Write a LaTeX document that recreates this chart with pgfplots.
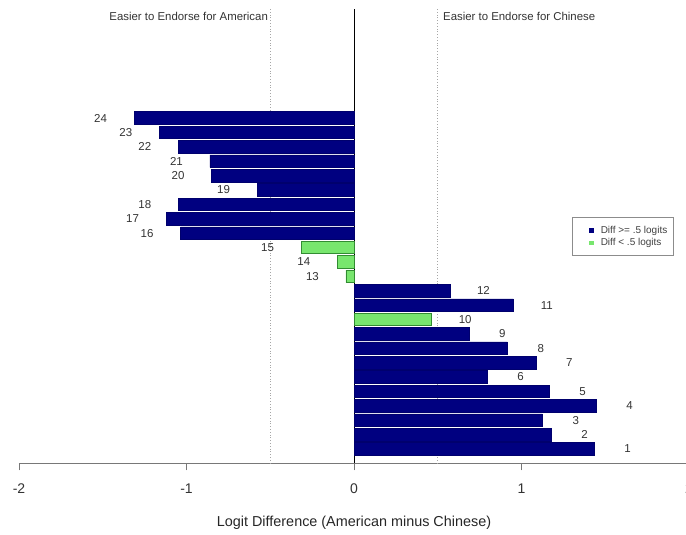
\documentclass[border=0pt]{standalone}
\usepackage{fontspec}
\setmainfont{Liberation Sans}
\usepackage{pgfplots}
\usepackage{pgfplotstable}
\pgfplotsset{compat=1.18}
\definecolor{navybar}{RGB}{0,0,128}
\definecolor{greenbar}{RGB}{120,230,110}
\definecolor{greenedge}{RGB}{50,140,50}
\definecolor{axgray}{RGB}{120,120,120}

\pgfplotstableread{
y x
24 -1.313
23 -1.162
22 -1.049
21 -0.860
20 -0.850
19 -0.579
18 -1.049
17 -1.122
16 -1.035
12 0.573
11 0.951
9 0.685
8 0.915
7 1.085
6 0.794
5 1.164
4 1.445
3 1.124
2 1.176
1 1.433
}\navydata

\pgfplotstableread{
y x
15 -0.316
14 -0.100
13 -0.048
10 0.464
}\greendata

\pgfplotstableread{
y x lab
24 -1.513 24
23 -1.362 23
22 -1.249 22
21 -1.060 21
20 -1.050 20
19 -0.779 19
18 -1.249 18
17 -1.322 17
16 -1.235 16
15 -0.516 15
14 -0.300 14
13 -0.248 13
12 0.773 12
11 1.151 11
10 0.664 10
9 0.885 9
8 1.115 8
7 1.285 7
6 0.994 6
5 1.364 5
4 1.645 4
3 1.324 3
2 1.376 2
1 1.633 1
}\labdata

\begin{document}
\begin{tikzpicture}[x=1pt,y=1pt]
\begin{axis}[
  scale only axis, width=670pt, height=454.4pt,
  xmin=-2, xmax=2, ymin=0, ymax=31.58,
  clip=false,
  axis y line=none, axis x line*=bottom,
  x axis line style={draw=axgray, line width=0.8pt},
  xtick={-2,-1,0,1,2}, xticklabels={-2,-1,0,1,2},
  xtick align=outside, major tick length=7pt,
  every tick/.style={axgray, line width=0.8pt},
  ytick=\empty,
  x tick label style={font=\fontsize{14}{16}\selectfont, text=black!80, anchor=center, yshift=-18pt},
  xlabel={Logit Difference (American minus Chinese)},
  xlabel style={font=\fontsize{14.4}{16}\selectfont, text=black!85, at={(axis description cs:0.5,0)}, anchor=center, yshift=-59.5pt},
  legend style={at={(axis description cs:0.8253,0.5421)}, anchor=north west,
    draw=black!45, line width=0.6pt, fill=white,
    font=\fontsize{10}{11}\selectfont, text=black!75,
    inner xsep=4.5pt, inner ysep=6.5pt, row sep=0pt},
  legend cell align=left,
]
\addplot[black, line width=0.8pt, forget plot] coordinates {(0,0) (0,31.58)};
\addplot[black!35, dotted, line width=0.8pt, forget plot] coordinates {(-0.5,0) (-0.5,31.58)};
\addplot[black!35, dotted, line width=0.8pt, forget plot] coordinates {(0.5,0) (0.5,31.58)};

\addplot[xbar, bar width=0.87, bar shift=0pt, fill=navybar, draw=navybar!85!black, line width=0.5pt, forget plot] table[x=x,y=y] {\navydata};
\addplot[xbar, bar width=0.87, bar shift=0pt, fill=greenbar, draw=greenedge, line width=0.7pt, forget plot] table[x=x,y=y] {\greendata};

\addplot[only marks, mark=*, mark size=0pt, mark options={draw=none,fill=none}, forget plot,
  point meta=explicit symbolic, nodes near coords,
  nodes near coords style={anchor=center, font=\fontsize{11.5}{12}\selectfont, text=black!80, inner sep=0pt}]
  table[x=x,y=y,meta=lab] {\labdata};

\addlegendimage{legend image code/.code={\path[draw=none,fill=none] (0pt,-3pt) rectangle (22pt,3pt); \fill[navybar] (12.5pt,-1.8pt) rectangle (16.1pt,1.8pt);}}
\addlegendentry{Diff >= .5 logits}
\addlegendimage{legend image code/.code={\path[draw=none,fill=none] (0pt,-3pt) rectangle (22pt,3pt); \fill[greenbar] (12.5pt,-1.8pt) rectangle (16.1pt,1.8pt);}}
\addlegendentry{Diff < .5 logits}

\node[anchor=east, inner sep=0pt, font=\fontsize{11.4}{12}\selectfont, text=black!80] at (axis cs:-0.513,31.09) {Easier to Endorse for American};
\node[anchor=west, inner sep=0pt, font=\fontsize{11.4}{12}\selectfont, text=black!80] at (axis cs:0.531,31.09) {Easier to Endorse for Chinese};

\coordinate (bbsw) at (axis cs:-2.1134,-4.976);
\coordinate (bbne) at (axis cs:1.982,32.20);
\end{axis}
\pgfresetboundingbox
\path[use as bounding box] (bbsw) rectangle (bbne);
\end{tikzpicture}
\end{document}
